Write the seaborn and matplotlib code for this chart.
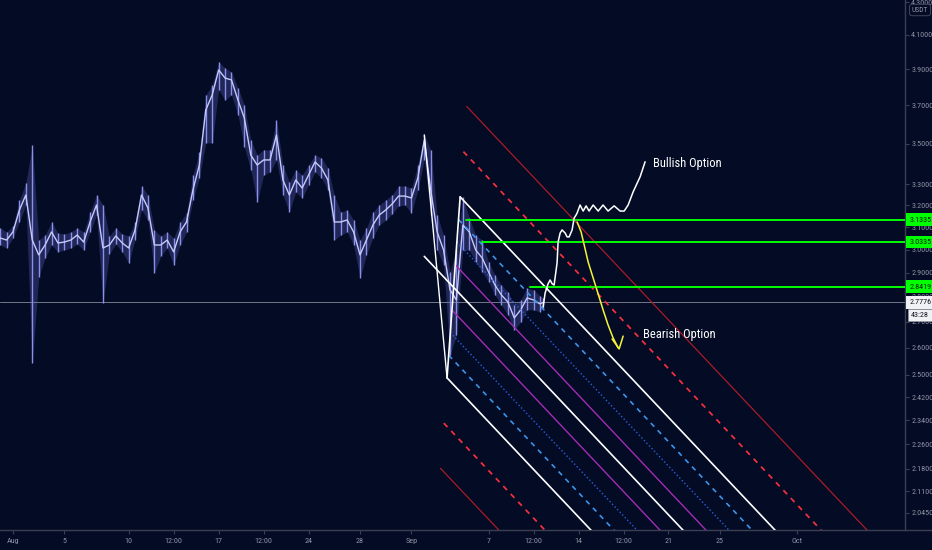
import math
import matplotlib
matplotlib.use("Agg")
import matplotlib.pyplot as plt
import matplotlib.transforms as mtransforms
from matplotlib.ticker import FixedLocator, NullLocator, FuncFormatter
from matplotlib import font_manager as fm
import seaborn as sns
import pandas as pd

# ---------------- data ----------------
days = [-1.0, -0.5, 0.0, 0.5, 1.0, 1.5, 2.0, 2.5, 3.0, 3.5, 4.0, 4.5, 5.0, 5.5,
        6.0, 6.5, 7.0, 7.5, 8.0, 8.5, 9.0, 9.5, 10.0, 10.5, 11.0, 11.5, 12.0,
        12.5, 13.0, 13.5, 14.0, 14.5, 15.0, 15.5, 16.0, 16.5, 17.0, 17.5, 18.0,
        18.5, 19.0, 19.5, 20.0, 20.5, 21.0, 21.5, 22.0, 22.5, 23.0, 23.5, 24.0,
        24.5, 25.0, 25.5, 26.0, 26.5, 27.0, 27.5, 28.0, 28.5, 29.0, 29.5, 30.0,
        30.5, 31.0, 31.5, 32.0, 32.5, 33.0, 33.5, 34.0, 34.5, 35.0, 35.5, 36.0,
        36.5, 37.0, 37.5, 38.0, 38.5, 39.0, 39.5, 40.0, 40.5, 41.0, 41.25]
close = [3.051, 3.042, 3.078, 3.178, 3.248, 3.042, 2.977, 3.020, 3.078, 3.029,
         3.033, 3.042, 3.064, 3.033, 3.123, 3.201, 3.007, 3.020, 3.060, 3.029,
         3.007, 3.087, 3.248, 3.187, 3.020, 3.020, 3.042, 2.990, 3.078, 3.123,
         3.272, 3.393, 3.676, 3.757, 3.896, 3.851, 3.840, 3.730, 3.633, 3.443,
         3.393, 3.418, 3.418, 3.545, 3.320, 3.248, 3.320, 3.281, 3.344, 3.408,
         3.378, 3.320, 3.123, 3.123, 3.132, 3.078, 2.977, 3.042, 3.109, 3.155,
         3.178, 3.206, 3.243, 3.243, 3.234, 3.330, 3.519, 3.272, 3.078, 2.998,
         2.829, 2.788, 3.109, 3.078, 2.998, 2.964, 2.904, 2.849, 2.808, 2.780,
         2.716, 2.748, 2.796, 2.788, 2.772, 2.7776]
high = [3.096, 3.078, 3.105, 3.225, 3.306, 3.493, 3.042, 3.064, 3.123, 3.073,
        3.069, 3.078, 3.096, 3.078, 3.169, 3.248, 3.201, 3.060, 3.096, 3.069,
        3.060, 3.123, 3.291, 3.248, 3.087, 3.060, 3.078, 3.051, 3.123, 3.164,
        3.344, 3.458, 3.757, 3.812, 3.942, 3.907, 3.885, 3.796, 3.703, 3.519,
        3.443, 3.468, 3.468, 3.623, 3.393, 3.310, 3.369, 3.344, 3.393, 3.443,
        3.428, 3.378, 3.248, 3.169, 3.178, 3.132, 3.042, 3.096, 3.169, 3.201,
        3.225, 3.248, 3.291, 3.291, 3.281, 3.393, 3.545, 3.468, 3.155, 3.064,
        2.904, 2.998, 3.239, 3.141, 3.064, 3.042, 2.946, 2.891, 2.849, 2.821,
        2.768, 2.788, 2.837, 2.829, 2.804, 2.796]
low = [3.020, 3.007, 3.051, 3.123, 3.201, 2.543, 2.883, 2.964, 3.020, 2.990,
       2.998, 3.007, 3.024, 2.998, 3.078, 3.155, 2.776, 2.981, 3.024, 2.990,
       2.942, 3.042, 3.178, 3.132, 2.900, 2.972, 3.007, 2.934, 3.020, 3.078,
       3.225, 3.330, 3.504, 3.504, 3.785, 3.730, 3.757, 3.649, 3.483, 3.369,
       3.215, 3.344, 3.359, 3.418, 3.248, 3.169, 3.262, 3.234, 3.296, 3.359,
       3.330, 3.272, 3.042, 3.064, 3.078, 3.020, 2.879, 2.977, 3.051, 3.109,
       3.132, 3.160, 3.197, 3.201, 3.164, 3.272, 3.418, 3.155, 2.998, 2.934,
       2.573, 2.649, 2.998, 2.998, 2.946, 2.904, 2.862, 2.808, 2.768, 2.728,
       2.669, 2.700, 2.748, 2.748, 2.740, 2.756]

last_price = 2.7776
countdown = "43:28"

green_levels = [3.1335, 3.0335, 2.8419]
green_start = [35.25, 36.5, 40.23]

# pitchfork anchors (day, price)
fork_p1 = (32.0, 3.545)
fork_p2 = (33.77, 2.489)
fork_p3 = (34.79, 3.239)
fork_levels = [0.25, 0.5, 0.75, 1.0, 1.5, 2.0]
fork_colors = ['#a22db3', '#2a5fe0', '#3b95ea', '#ffffff', '#f0303c', '#a81c28']
fork_styles = ['-', ':', (0, (3, 3)), '-', (0, (3, 3)), '-']
fork_widths = [1.0, 1.0, 1.2, 1.2, 1.3, 0.9]

# hand drawn projection paths (day, price)
bull_d = [41.25, 41.40, 41.63, 41.79, 41.95, 42.10, 42.33, 42.41, 42.57, 42.72,
          42.96, 43.11, 43.27, 43.50, 43.66, 43.81, 43.89, 44.12, 44.36, 44.59,
          44.82, 45.14, 45.53, 45.91, 46.30, 46.77, 47.24, 47.55, 47.86, 48.25,
          48.79, 49.18]
bull_p = [2.760, 2.816, 2.854, 2.870, 2.854, 2.849, 2.942, 3.033, 3.073, 3.087,
          3.073, 3.056, 3.056, 3.087, 3.141, 3.155, 3.164, 3.201, 3.173, 3.197,
          3.173, 3.201, 3.173, 3.201, 3.173, 3.197, 3.173, 3.173, 3.201, 3.263,
          3.335, 3.409]
bear_d = [43.89, 44.20, 44.44, 44.75, 45.14, 45.53, 45.91, 46.30, 46.69, 47.08]
bear_p = [3.123, 3.078, 3.020, 2.946, 2.878, 2.812, 2.748, 2.688, 2.638, 2.600]
arrow_d = [46.61, 47.16, 47.47]
arrow_p = [2.634, 2.596, 2.645]

bull_label = ("Bullish Option", 49.8, 3.402)
bear_label = ("Bearish Option", 49.0, 2.653)

ytick_vals = [4.3, 4.1, 3.9, 3.7, 3.5, 3.3, 3.2, 3.1, 3.0, 2.9, 2.8, 2.7, 2.6,
              2.5, 2.42, 2.34, 2.26, 2.18, 2.11, 2.045]
xtick_pos = [0, 4, 9, 12.5, 16, 19.5, 23, 27, 31, 37, 40.5, 44, 47.5, 51, 55, 61]
xtick_lab = ['Aug', '5', '10', '12:00', '17', '12:00', '24', '28', 'Sep', '7',
             '12:00', '14', '12:00', '21', '25', 'Oct']
x_range = (-1.01, 69.4)
y_range = (1.9946, 4.314)

# ---------------- fonts ----------------
ttf = fm.fontManager.ttflist
names = {f.name for f in ttf}
FAM, STRETCH, NARROW = 'Roboto', 'normal', False
for n in ['Roboto Condensed', 'Liberation Sans Narrow', 'Open Sans Condensed']:
    if n in names:
        FAM, STRETCH, NARROW = n, 'normal', True
        break
else:
    for n in ['Noto Sans', 'Open Sans', 'DejaVu Sans']:
        if any(f.name == n and str(f.stretch) in ('condensed', 'semi-condensed')
               for f in ttf):
            FAM, STRETCH, NARROW = n, 'condensed', True
            break
if FAM not in names:
    FAM = 'DejaVu Sans'
AX_FS = 5.9 if NARROW else 4.8
LBL_FS = 9.0 if NARROW else 7.6

# ---------------- style ----------------
BG = '#040b25'
AXC = '#3a3f52'
TXT = '#8d91a3'
sns.set_theme(style='dark', rc={'axes.facecolor': BG, 'figure.facecolor': BG,
                                'axes.grid': False})
plt.rcParams['font.family'] = [FAM, 'DejaVu Sans']
plt.rcParams['font.stretch'] = STRETCH

fig = plt.figure(figsize=(9.32, 5.5), dpi=100)
ax = fig.add_axes([0, 20 / 550, 905 / 932, 530 / 550])
ax.set_facecolor(BG)
ax.set_yscale('log')

# last price line
ax.axhline(last_price, color='#8e92a3', lw=0.7, alpha=0.8, zorder=1)

# price
ax.fill_between(days, low, high, color='#6a70d8', alpha=0.28, lw=0, zorder=2)
ax.vlines(days, low, high, color='#8a8fea', lw=1.0, zorder=3)
df = pd.DataFrame({'day': days, 'close': close})
sns.lineplot(data=df, x='day', y='close', ax=ax, color='#c6cafb', lw=1.0,
             estimator=None, sort=False, zorder=4)

# pitchfork (Schiff)
L = math.log
S = (fork_p1[0], (L(fork_p1[1]) + L(fork_p2[1])) / 2)
M = ((fork_p2[0] + fork_p3[0]) / 2, (L(fork_p2[1]) + L(fork_p3[1])) / 2)
Dd, Dl = M[0] - S[0], M[1] - S[1]
hd, hl = fork_p3[0] - M[0], L(fork_p3[1]) - M[1]
ext = 40
ax.plot([S[0], S[0] + ext * Dd], [math.exp(S[1]), math.exp(S[1] + ext * Dl)],
        color='white', lw=1.2, zorder=5)
for k, c, ls, w in zip(fork_levels, fork_colors, fork_styles, fork_widths):
    for sgn in (1, -1):
        x0 = M[0] + sgn * k * hd
        y0 = M[1] + sgn * k * hl
        ax.plot([x0, x0 + ext * Dd], [math.exp(y0), math.exp(y0 + ext * Dl)],
                color=c, lw=w, linestyle=ls, zorder=5)
ax.plot([fork_p1[0], fork_p2[0]], [fork_p1[1], fork_p2[1]], color='white', lw=1.0, zorder=5)
ax.plot([fork_p2[0], fork_p3[0]], [fork_p2[1], fork_p3[1]], color='white', lw=1.2, zorder=5)

# green levels
for lv, st in zip(green_levels, green_start):
    ax.plot([st, x_range[1] + 5], [lv, lv], color='#00ff00', lw=1.4, zorder=6)

# hand drawn paths
ax.plot(bull_d, bull_p, color='white', lw=1.1, zorder=7)
ax.plot(bear_d, bear_p, color='#f4f53a', lw=1.1, zorder=7)
ax.plot(arrow_d, arrow_p, color='#f4f53a', lw=1.1, zorder=7)

for txt, dx, py in (bull_label, bear_label):
    ax.text(dx, py, txt, color='white', fontsize=LBL_FS, ha='left', va='center',
            zorder=8)

ax.set_xlim(*x_range)
ax.set_ylim(*y_range)

# axes styling
for s in ('top', 'left'):
    ax.spines[s].set_visible(False)
for s in ('right', 'bottom'):
    ax.spines[s].set_color(AXC)
    ax.spines[s].set_linewidth(1.0)
ax.yaxis.tick_right()
ax.yaxis.set_major_locator(FixedLocator(ytick_vals))
ax.yaxis.set_minor_locator(NullLocator())
ax.yaxis.set_major_formatter(FuncFormatter(lambda v, p: f"{v:.4f}"))
ax.set_xticks(xtick_pos, xtick_lab)
ax.tick_params(axis='y', which='major', right=True, length=3, width=0.8,
               color=AXC, labelcolor=TXT, labelsize=AX_FS, pad=1.5)
ax.tick_params(axis='x', which='major', bottom=True, length=3, width=0.8,
               color=AXC, labelcolor=TXT, labelsize=AX_FS, pad=3)
ax.set_xlabel('')
ax.set_ylabel('')

# bottom separator across price scale
fig.add_artist(plt.Line2D([905 / 932, 1], [20 / 550, 20 / 550],
                          transform=fig.transFigure, color=AXC, lw=1.0))

# price scale labels
blend = mtransforms.blended_transform_factory(ax.transAxes, ax.transData)
x_lab = 1 + 4.5 / 905
for lv in green_levels:
    ax.text(x_lab, lv, f"{lv:.4f}", transform=blend, ha='left', va='center',
            fontsize=AX_FS, color='#0a1a0a', clip_on=False, zorder=20,
            bbox=dict(boxstyle='square,pad=0.4', fc='#00ff00', ec='none'))
ax.text(x_lab, last_price, f"{last_price:.4f}", transform=blend, ha='left',
        va='center', fontsize=AX_FS, color='#131722', clip_on=False, zorder=20,
        bbox=dict(boxstyle='square,pad=0.4', fc='#f0f1f4', ec='none'))
ax.text(x_lab + 1.5 / 905, 2.727, countdown, transform=blend, ha='left', va='center',
        fontsize=AX_FS, color='#131722', clip_on=False, zorder=20,
        bbox=dict(boxstyle='square,pad=0.35', fc='#f0f1f4', ec='#9598a1', lw=0.5))
ax.text(1 + 15 / 905, 1 - 10 / 530, "USDT", transform=ax.transAxes, ha='center',
        va='center', fontsize=AX_FS - 0.5, color=TXT, clip_on=False, zorder=20,
        bbox=dict(boxstyle='round,pad=0.3', fc=BG, ec='#4a4f63', lw=0.6))

fig.savefig('out.png', dpi=100, facecolor=BG)
